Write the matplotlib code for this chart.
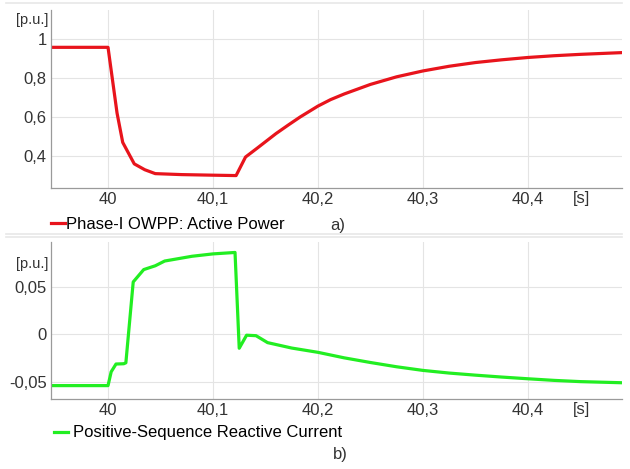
import numpy as np
import matplotlib
matplotlib.use('Agg')
import matplotlib.pyplot as plt
from matplotlib.lines import Line2D

plt.rcParams['font.family'] = ['Liberation Sans', 'DejaVu Sans']

# datos
t_p = [39.94, 40.0, 40.0086, 40.014, 40.025, 40.035, 40.045, 40.07, 40.1, 40.122,
       40.131, 40.142, 40.16, 40.172, 40.183, 40.2, 40.212, 40.225, 40.25, 40.275,
       40.3, 40.325, 40.35, 40.375, 40.4, 40.425, 40.45, 40.49]
p = [0.957, 0.957, 0.62, 0.47, 0.36, 0.33, 0.31, 0.305, 0.302, 0.30,
     0.395, 0.44, 0.515, 0.56, 0.60, 0.656, 0.689, 0.718, 0.767, 0.806,
     0.836, 0.860, 0.879, 0.893, 0.905, 0.914, 0.921, 0.930]

t_q = [39.94, 40.0, 40.003, 40.0076, 40.015, 40.017, 40.024, 40.034, 40.045, 40.054,
       40.08, 40.1, 40.121, 40.125, 40.132, 40.141, 40.152, 40.175, 40.2, 40.225,
       40.25, 40.275, 40.3, 40.325, 40.35, 40.375, 40.4, 40.425, 40.45, 40.49]
q = [-0.054, -0.054, -0.0395, -0.0313, -0.031, -0.03, 0.055, 0.068, 0.072, 0.077,
     0.082, 0.0845, 0.086, -0.0147, -0.001, -0.0015, -0.0088, -0.0145, -0.019, -0.0248,
     -0.0297, -0.0342, -0.038, -0.0408, -0.043, -0.045, -0.0468, -0.0485, -0.0498, -0.051]

xticks = [40.0, 40.1, 40.2, 40.3, 40.4]
xlabels = ['40', '40,1', '40,2', '40,3', '40,4']
yt_p = [0.4, 0.6, 0.8, 1.0]
yl_p = ['0,4', '0,6', '0,8', '1']
yt_q = [-0.05, 0.0, 0.05]
yl_q = ['-0,05', '0', '0,05']

fs = 12

fig = plt.figure(figsize=(6.3, 4.69), dpi=100)
ax1 = fig.add_axes([0.081, 0.599, 0.906, 0.380])
ax2 = fig.add_axes([0.081, 0.149, 0.906, 0.335])

def estilo(ax, yt, yl, ylim, y_s):
    ax.set_xlim(39.9457, 40.4895)
    ax.set_ylim(*ylim)
    ax.set_xticks(xticks)
    ax.set_xticklabels(xlabels)
    ax.set_yticks(yt)
    ax.set_yticklabels(yl)
    ax.tick_params(length=0, labelsize=fs, colors='#333333', pad=3)
    ax.grid(color='#e4e4e4', lw=0.8)
    ax.set_axisbelow(True)
    for s in ['top', 'right']:
        ax.spines[s].set_visible(False)
    for s in ['left', 'bottom']:
        ax.spines[s].set_color('#9a9a9a')
        ax.spines[s].set_linewidth(0.9)
    # unidad del eje x, a la altura de las etiquetas
    fig.text(582 / 630, 1 - y_s / 469, '[s]', ha='center', va='center',
             fontsize=fs, color='#333333')

estilo(ax1, yt_p, yl_p, (0.236, 1.149), 198)
estilo(ax2, yt_q, yl_q, (-0.0682, 0.097), 409)

ax1.plot(t_p, p, color='#e8141c', lw=2.3, label='Phase-I OWPP: Active Power')
ax2.plot(t_q, q, color='#22ee22', lw=2.3, label='Positive-Sequence Reactive Current')

ax1.text(-0.005, 0.944, '[p.u.]', transform=ax1.transAxes, ha='right', va='center',
         fontsize=10.5, color='#333333')
ax2.text(-0.005, 0.86, '[p.u.]', transform=ax2.transAxes, ha='right', va='center',
         fontsize=10.5, color='#333333')

ax1.legend(loc='center left', bbox_to_anchor=(-0.012, -0.205), frameon=False,
           handlelength=0.85, handletextpad=0.08, fontsize=fs, borderaxespad=0)
ax2.legend(loc='center left', bbox_to_anchor=(-0.006, -0.215), frameon=False,
           handlelength=0.85, handletextpad=0.3, fontsize=fs, borderaxespad=0)

fig.text(338 / 630, 1 - 225 / 469, 'a)', ha='center', va='center', fontsize=fs, color='#333333')
fig.text(340 / 630, 1 - 454 / 469, 'b)', ha='center', va='center', fontsize=fs, color='#333333')

# lineas de separacion de paneles
for yy in [3, 234, 237]:
    fig.add_artist(Line2D([0.01, 0.987], [1 - yy / 469, 1 - yy / 469],
                          color='#e8e8e8', lw=1.2, transform=fig.transFigure))

fig.savefig('out.png', dpi=100)
